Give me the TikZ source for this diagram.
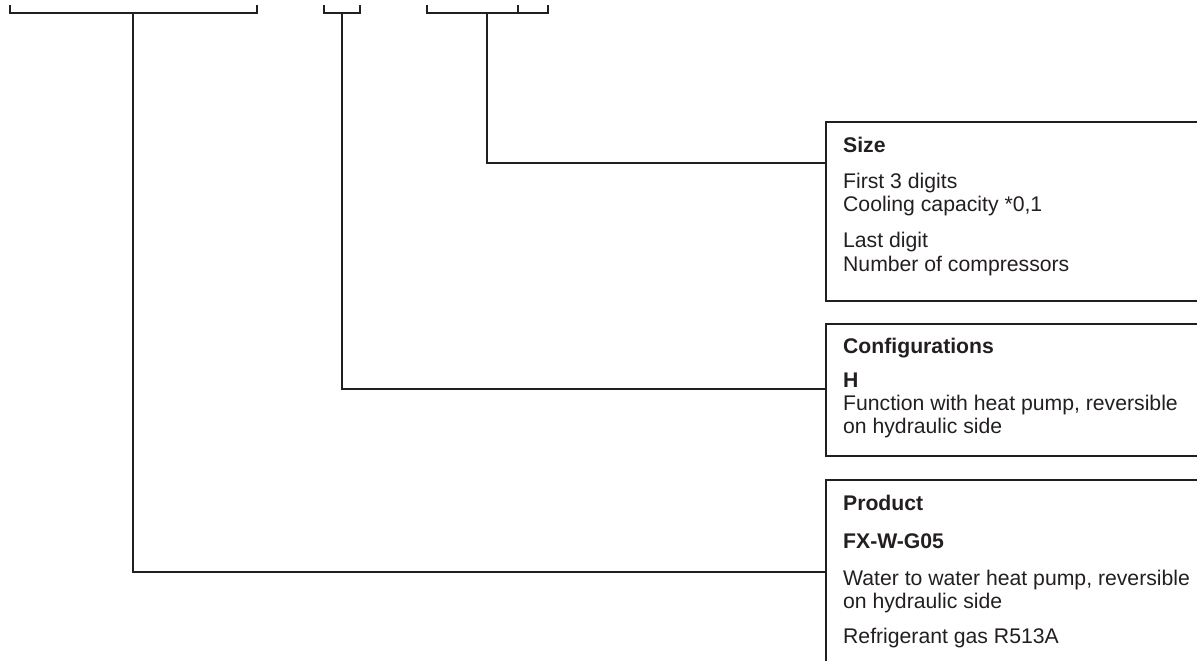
\documentclass[tikz,border=0pt]{standalone}
\usepackage{fontspec}
\setmainfont{Liberation Sans}
\definecolor{ink}{HTML}{231F20}
\begin{document}
\begin{tikzpicture}[x=1pt, y=-1pt, line width=2.3pt, color=ink,
  infobox/.style={draw, minimum width=420pt, anchor=north west, inner sep=0pt},
  txt/.style={anchor=base west, inner sep=0pt, font=\fontsize{21.2}{24}\selectfont},
  head/.style={txt, font=\fontsize{21.2}{24}\selectfont\bfseries}]
\clip (0,0) rectangle (1197,661);
\draw (10,5) |- (257,13) -- (257,5);
\draw (324,5) |- (360,13) -- (360,5);
\draw (427,5) |- (548,13) -- (548,5);
\draw (518,5) -- (518,13);
\coordinate (prodstem) at (133,13);
\coordinate (cfgstem) at (342,13);
\coordinate (sizestem) at (487,13);
\node[infobox, minimum height=179pt] (sizebox) at (825,121) {};
\node[infobox, minimum height=132pt] (cfgbox) at (825,323) {};
\node[infobox, minimum height=260pt] (prodbox) at (825,479) {};
\draw (sizestem) |- ([yshift=-42pt]sizebox.north west);
\draw (cfgstem) |- ([yshift=-66pt]cfgbox.north west);
\draw (prodstem) |- ([yshift=-93pt]prodbox.north west);
\node[head] (sizehd) at (842,152) {Size};
\node[txt] (first) at (842,188) {First 3 digits};
\node[txt] (cool) at (842,211) {Cooling capacity *0,1};
\node[txt] (last) at (842,247) {Last digit};
\node[txt] (ncomp) at (842,271) {Number of compressors};
\node[head] (cfghd) at (842,353) {Configurations};
\node[head] (hcode) at (842,387) {H};
\node[txt] (func) at (842,410) {Function with heat pump, reversible};
\node[txt] (hyd) at (842,433) {on hydraulic side};
\node[head] (prodhd) at (842,510) {Product};
\node[head] (fxcode) at (842,548) {FX-W-G05};
\node[txt] (water) at (842,585) {Water to water heat pump, reversible};
\node[txt] (hyd2) at (842,608) {on hydraulic side};
\node[txt] (gas) at (842,643) {Refrigerant gas R513A};
\end{tikzpicture}
\end{document}
